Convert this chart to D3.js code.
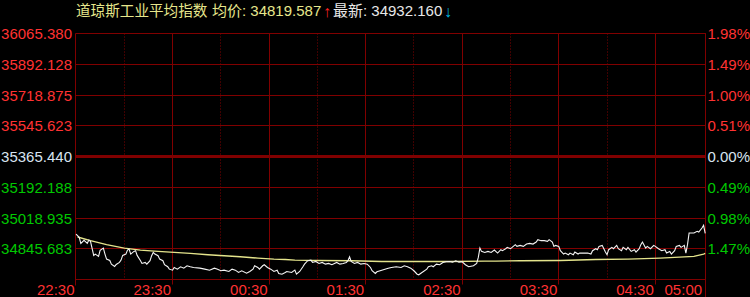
<!DOCTYPE html>
<html><head><meta charset="utf-8">
<script src="https://cdn.jsdelivr.net/npm/d3@7/dist/d3.min.js"></script>
<style>html,body{margin:0;padding:0;background:#000;overflow:hidden}</style>
</head><body><svg id="c" width="750" height="297"></svg>
<script>
// ---------- data ----------
const titleText = "道琼斯工业平均指数";
const avgText = "均价: 34819.587";
const lastText = "最新: 34932.160";
const baseValue = 35365.44;
const rowStep = 173.252;
const leftLabels = ["36065.380","35892.128","35718.875","35545.623","35365.440","35192.188","35018.935","34845.683"];
const rightLabels = ["1.98%","1.49%","1.00%","0.51%","0.00%","0.49%","0.98%","1.47%"];
const timeLabels = ["22:30","23:30","00:30","01:30","02:30","03:30","04:30","05:00"];
const timeMinutes = [0,60,120,180,240,300,360,390];
const halfHourMinutes = [30,90,150,210,270,330];

const priceMinutes = [0,2,3,5,7,8,9,11,12,14,15,17,18,19,21,22,24,25,27,28,29,31,32,33,34,36,37,38,40,41,43,44,46,47,48,49,51,52,54,55,57,58,60,61,63,65,67,69,71,73,77,80,83,86,88,90,92,95,97,99,101,103,106,108,110,111,113,114,116,117,119,121,123,125,126,128,130,131,134,136,137,139,141,142,144,146,147,149,151,153,155,157,159,162,164,166,168,169,170,171,173,175,177,179,181,183,184,186,187,190,192,194,196,199,202,204,206,208,210,212,213,215,218,219,221,222,224,226,228,230,232,234,236,238,240,242,244,247,249,250,251,252,254,256,258,260,262,264,265,267,268,270,271,273,274,276,278,280,282,284,286,287,289,291,293,294,296,297,298,300,301,303,304,306,307,309,310,312,313,316,318,320,321,323,324,325,327,328,329,330,331,333,334,336,337,339,340,342,343,345,347,348,350,351,352,354,355,357,359,360,362,364,366,367,369,370,372,373,375,376,378,379,380,381,384,386,387,389,390,391];
const priceValues = [34928.7,34910.0,34876.1,34893.1,34876.1,34894.8,34887.4,34808.2,34815.6,34802.5,34836.5,34849.5,34815.6,34787.3,34779.9,34759.0,34745.9,34757.3,34768.6,34781.6,34808.2,34815.6,34838.2,34843.8,34815.6,34830.8,34834.8,34808.2,34779.9,34762.9,34768.6,34759.0,34778.2,34806.5,34825.1,34815.6,34806.5,34787.3,34778.2,34755.6,34744.2,34730.7,34725.0,34740.3,34730.7,34744.2,34736.3,34749.9,34744.2,34740.3,34736.3,34730.7,34725.0,34736.3,34730.7,34721.6,34725.0,34717.7,34730.7,34725.0,34712.0,34721.6,34708.0,34717.7,34730.7,34749.9,34740.3,34730.7,34749.9,34755.6,34740.3,34730.7,34717.7,34725.0,34706.4,34702.4,34712.0,34717.7,34712.0,34725.0,34702.4,34717.7,34744.2,34759.0,34778.2,34781.6,34768.6,34774.2,34762.9,34768.6,34759.0,34762.9,34755.6,34768.6,34759.0,34762.9,34768.6,34778.2,34800.8,34774.2,34762.9,34768.6,34759.0,34762.9,34759.0,34740.3,34721.6,34706.4,34716.0,34725.0,34730.7,34736.3,34740.3,34744.2,34740.3,34749.9,34744.2,34736.3,34721.6,34702.4,34699.0,34712.0,34730.7,34744.2,34749.9,34744.2,34759.0,34755.6,34768.6,34772.5,34774.2,34770.3,34778.2,34770.3,34772.5,34755.6,34744.2,34749.9,34762.9,34796.9,34849.5,34830.8,34825.1,34830.8,34825.1,34838.2,34821.2,34840.4,34834.8,34846.1,34853.4,34846.1,34853.4,34868.7,34859.1,34864.7,34859.1,34872.1,34876.1,34872.1,34883.4,34897.0,34891.3,34891.3,34887.4,34897.0,34883.4,34859.1,34864.7,34859.1,34834.8,34815.6,34821.2,34812.1,34821.2,34812.1,34826.8,34815.6,34821.2,34821.2,34821.2,34815.6,34834.8,34846.1,34840.4,34859.1,34864.7,34846.1,34826.8,34812.1,34840.4,34853.4,34846.1,34864.7,34846.1,34834.8,34853.4,34840.4,34853.4,34830.8,34840.4,34826.8,34846.1,34868.7,34883.4,34849.5,34859.1,34846.1,34864.7,34859.1,34846.1,34834.8,34840.4,34821.2,34830.8,34815.6,34834.8,34859.1,34864.7,34853.4,34864.7,34821.2,34868.7,34934.3,34934.3,34943.9,34940.0,34962.6,34977.9,34932.16];

const avgMinutes = [1,9,19,30,40,51,61,71,82,92,102,113,123,130,136,150,171,190,212,233,254,261,276,301,323,343,363,384,390,391];
const avgValues = [34912.0,34891.3,34868.7,34849.5,34838.2,34830.8,34825.1,34819.5,34812.1,34806.5,34800.8,34792.9,34787.3,34785.5,34781.6,34779.9,34778.2,34774.2,34774.2,34774.2,34775.9,34776.0,34778.2,34779.9,34785.5,34787.3,34792.9,34802.5,34815.6,34819.6];

// ---------- drawing ----------
const svg = d3.select("#c");
svg.append("rect").attr("width",750).attr("height",297).attr("fill","#000");
const L = 76, R = 706, T = 33.5, B = 279.5;
const gridColor = "#800000";
const FONT = "'Liberation Sans', Arial, 'Noto Sans CJK SC', sans-serif";
const red = "#ff3232", green = "#00c800", flat = "#d8e4f0";

const x = d3.scaleLinear().domain([0, 391.5]).range([L, R]);
const y = d3.scaleLinear().domain([baseValue - 4*rowStep, baseValue + 4*rowStep]).range([B, T]);
const crisp = v => Math.floor(v) + 0.5;

const rows = d3.range(9).map(i => baseValue + (4 - i) * rowStep);
const g = svg.append("g");

// horizontal grid
g.selectAll("line.h").data(rows).join("line")
  .attr("x1", L - 0.5).attr("x2", R)
  .attr("y1", d => crisp(y(d))).attr("y2", d => crisp(y(d)))
  .attr("stroke", gridColor)
  .attr("stroke-width", (d,i) => i === 4 ? 3 : 1);

// half-hour dotted verticals
g.selectAll("line.d").data(halfHourMinutes).join("line")
  .attr("x1", d => crisp(x(d))).attr("x2", d => crisp(x(d)))
  .attr("y1", T).attr("y2", B)
  .attr("stroke", gridColor).attr("stroke-dasharray", "1,2");

// hour solid verticals (with tick below)
g.selectAll("line.v").data(timeMinutes.slice(1, 7)).join("line")
  .attr("x1", d => crisp(x(d))).attr("x2", d => crisp(x(d)))
  .attr("y1", T).attr("y2", B + 5)
  .attr("stroke", gridColor);

// borders
g.append("line").attr("x1", crisp(x(0)) - 1).attr("x2", crisp(x(0)) - 1)
  .attr("y1", T).attr("y2", B + 6).attr("stroke", gridColor);
g.append("line").attr("x1", R - 0.5).attr("x2", R - 0.5)
  .attr("y1", T).attr("y2", 297).attr("stroke", gridColor);

// left labels
const lblColor = i => i < 4 ? red : (i === 4 ? flat : green);
svg.selectAll("text.l").data(leftLabels).join("text")
  .attr("x", 72).attr("y", (d,i) => y(rows[i]) + 5.5)
  .attr("text-anchor", "end").attr("font-family", FONT).attr("font-size", 15)
  .attr("fill", (d,i) => lblColor(i)).text(d => d);

// right labels
svg.selectAll("text.r").data(rightLabels).join("text")
  .attr("x", 707.5).attr("y", (d,i) => y(rows[i]) + 5.5)
  .attr("font-family", FONT).attr("font-size", 15)
  .attr("fill", (d,i) => lblColor(i)).text(d => d);

// time labels
svg.selectAll("text.t").data(timeLabels).join("text")
  .attr("x", (d,i) => x(timeMinutes[i]) - 1.5).attr("y", 295)
  .attr("text-anchor", "end").attr("font-family", FONT).attr("font-size", 15)
  .attr("fill", red).text(d => d);

// series
const n = Math.min(priceMinutes.length, priceValues.length);
const priceData = d3.range(n).map(i => [priceMinutes[i], priceValues[i]]);
const avgData = avgMinutes.map((m,i) => [m, avgValues[i]]);
const line = d3.line().x(d => x(d[0])).y(d => y(d[1]));

svg.append("path").datum(avgData).attr("d", line)
  .attr("fill", "none").attr("stroke", "#e4e48c").attr("stroke-width", 1.4);
svg.append("path").datum(priceData).attr("d", line)
  .attr("fill", "none").attr("stroke", "#f4f4f4").attr("stroke-width", 1.1);

// title
const tf = 15;
svg.append("text").attr("x", 76).attr("y", 16).attr("font-family", FONT).attr("font-size", 14.6)
  .attr("fill", "#e6e68c").text(titleText);
svg.append("text").attr("x", 212).attr("y", 16).attr("font-family", FONT).attr("font-size", tf)
  .attr("fill", "#e6e68c").text(avgText);
svg.append("text").attr("x", 323).attr("y", 17).attr("font-family", FONT).attr("font-size", 16)
  .attr("fill", "#ff2020").text("↑");
svg.append("text").attr("x", 333).attr("y", 16).attr("font-family", FONT).attr("font-size", tf)
  .attr("fill", "#e8e8e8").text(lastText);
svg.append("text").attr("x", 444).attr("y", 17).attr("font-family", FONT).attr("font-size", 16)
  .attr("fill", "#00b4e0").text("↓");
</script>
</body></html>
